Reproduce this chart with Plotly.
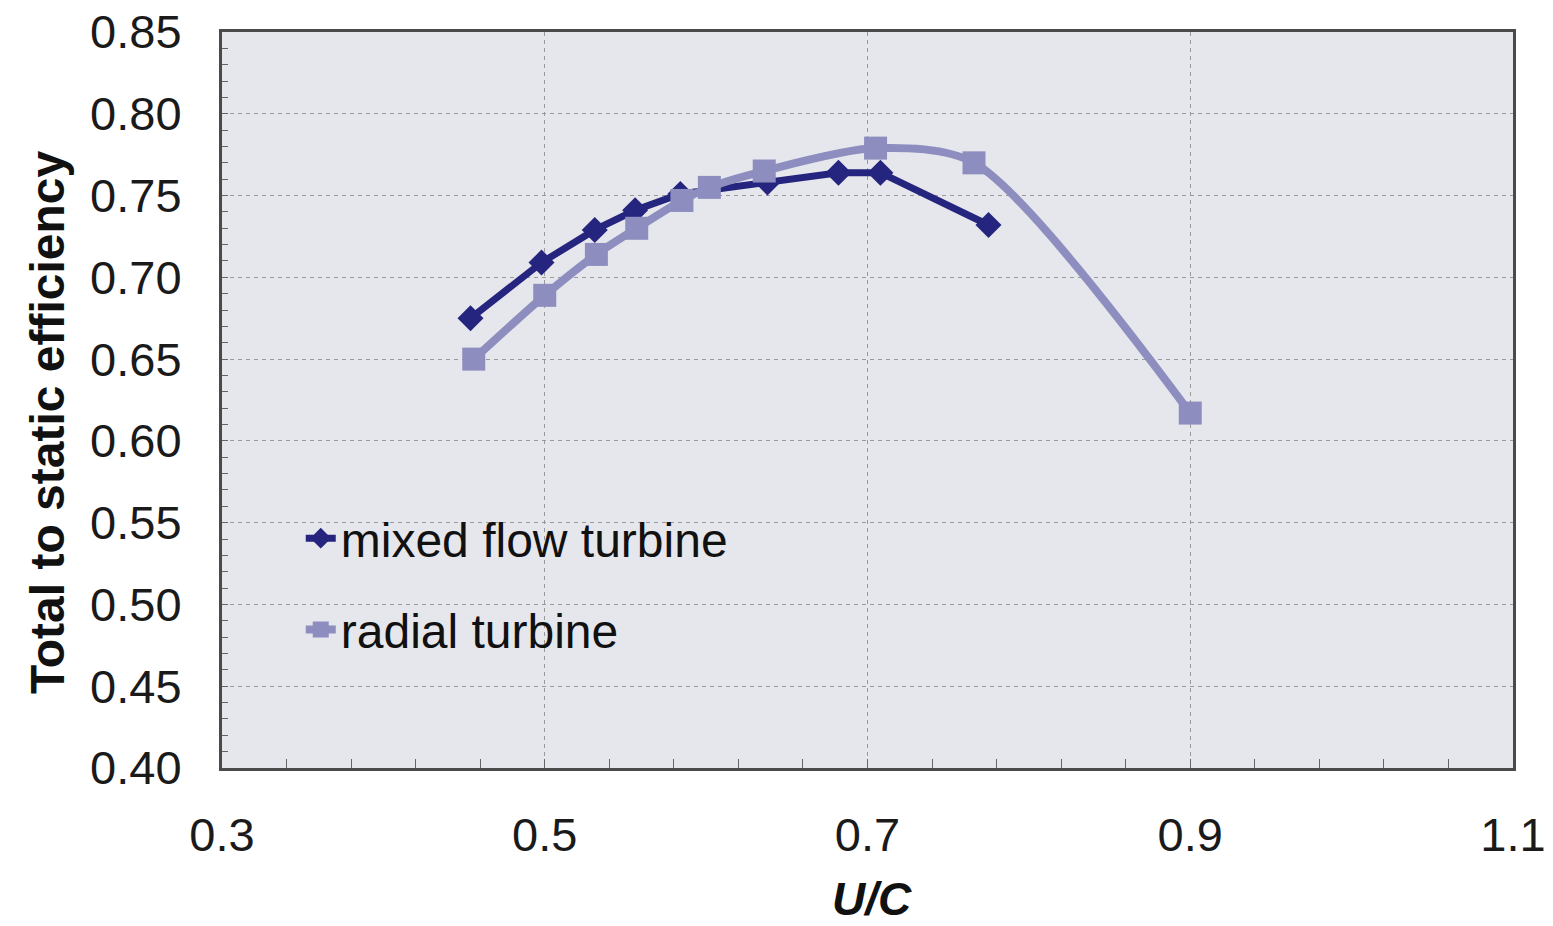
import plotly.graph_objects as go

# Data
mixed_x = [0.454, 0.498, 0.531, 0.556, 0.584, 0.638, 0.682, 0.708, 0.775]
mixed_y = [0.675, 0.709, 0.729, 0.741, 0.751, 0.758, 0.764, 0.764, 0.732]

radial_x = [0.456, 0.500, 0.532, 0.557, 0.585, 0.602, 0.636, 0.705, 0.766, 0.900]
radial_y = [0.650, 0.689, 0.714, 0.730, 0.747, 0.755, 0.765, 0.779, 0.770, 0.617]

series_names = ["mixed flow turbine", "radial turbine"]
x_title = "U/C"
y_title = "Total to static efficiency"

FONT = "Liberation Sans, Arial, sans-serif"
MIXED_COLOR = "#25257f"
RADIAL_COLOR = "#8d8dbf"

fig = go.Figure()
fig.add_trace(go.Scatter(
    x=mixed_x, y=mixed_y, name=series_names[0], mode="lines+markers",
    line=dict(color=MIXED_COLOR, width=7),
    marker=dict(symbol="diamond", size=20, color=MIXED_COLOR),
    legendgroup="a",
))
fig.add_trace(go.Scatter(
    x=radial_x, y=radial_y, name=series_names[1], mode="lines+markers",
    line=dict(color=RADIAL_COLOR, width=8, shape="spline", smoothing=0.8),
    marker=dict(symbol="square", size=23, color=RADIAL_COLOR),
    legendgroup="b",
))

axis_common = dict(
    showline=True, mirror=True, linecolor="#4a4a4a", linewidth=3,
    showgrid=True, gridcolor="#9a9a9a", gridwidth=1, griddash="4px,4px",
    zeroline=False, ticks="inside", tickcolor="#666666", tickwidth=1,
    tickfont=dict(family=FONT, size=47, color="#1a1a1a"),
)

fig.update_xaxes(
    **axis_common,
    range=[0.3, 1.1], tick0=0.3, dtick=0.2, tickformat=".1f", ticklen=9,
    minor=dict(dtick=0.04, tick0=0.3, ticks="inside", ticklen=9, tickcolor="#666666", showgrid=False),
    ticklabelstandoff=24,
)
fig.update_yaxes(
    **axis_common,
    range=[0.4, 0.85], tick0=0.4, dtick=0.05, tickformat=".2f", ticklen=6,
    minor=dict(dtick=0.01, tick0=0.4, ticks="inside", ticklen=6, tickcolor="#666666", showgrid=False),
    ticklabelstandoff=28,
)

fig.add_annotation(
    text="<b><i>" + x_title + "</i></b>", xref="paper", yref="paper",
    x=(872 - 222) / 1291, y=-(899 - 768) / 736, xanchor="center", yanchor="middle",
    showarrow=False, font=dict(family=FONT, size=46, color="#111111"),
)
fig.add_annotation(
    text="<b>" + y_title + "</b>", xref="paper", yref="paper", textangle=-90,
    x=-(222 - 47) / 1291, y=(768 - 422) / 736, xanchor="center", yanchor="middle",
    showarrow=False, font=dict(family=FONT, size=48, color="#111111"),
)

fig.update_layout(
    width=1553, height=926,
    margin=dict(l=222, r=40, t=32, b=158, autoexpand=False),
    paper_bgcolor="white", plot_bgcolor="#e6e7ec",
    font=dict(family=FONT, color="#111111"),
    showlegend=True,
    legend=dict(
        x=0.061, y=0.25, xanchor="left", yanchor="middle",
        bgcolor="rgba(0,0,0,0)", borderwidth=0,
        font=dict(family=FONT, size=48, color="#111111"),
        tracegroupgap=26, traceorder="grouped", itemwidth=30,
    ),
)

fig.write_html("out.html")
